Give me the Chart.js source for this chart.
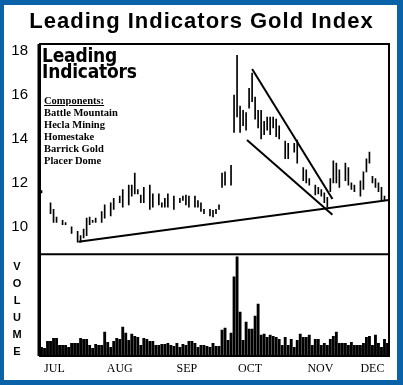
<!DOCTYPE html>
<html>
<head>
<meta charset="utf-8">
<script src="https://cdn.jsdelivr.net/npm/chart.js@4.4.0/dist/chart.umd.min.js"></script>
<style>
body { margin: 0; background: #fff; }
#wrap { position: relative; width: 403px; height: 385px; overflow: hidden; background: #fff; }
#frame { position: absolute; left: 0; top: 0; width: 403px; height: 385px; box-sizing: border-box;
  border: solid #0a62a9; border-width: 5px 6px 5px 4px; pointer-events: none; }
#title { position: absolute; left: 0; width: 403px; top: 8px; text-align: center; letter-spacing: 1px;
  font: bold 22px "Liberation Sans", Arial, sans-serif; color: #000; }
#big { position: absolute; left: 42px; top: 47px; font: bold 19px/16px "DejaVu Sans Condensed", "DejaVu Sans", sans-serif;
  color: #000; letter-spacing: -0.2px; }
#comp { position: absolute; left: 44px; top: 95px; font: bold 10.5px/12px "Liberation Serif", serif; color: #000; }
#comp u { text-underline-offset: 1px; }
#vol { position: absolute; left: 11px; top: 258px; width: 12px; text-align: center;
  font: bold 11px/17px "Liberation Sans", Arial, sans-serif; color: #000; }
</style>
</head>
<body>
<div id="wrap">
  <canvas id="chart" width="403" height="385"></canvas>
  <div id="title">Leading Indicators Gold Index</div>
  <div id="big">Leading<br>Indicators</div>
  <div id="comp"><u>Components:</u><br>Battle Mountain<br>Hecla Mining<br>Homestake<br>Barrick Gold<br>Placer Dome</div>
  <div id="vol">V<br>O<br>L<br>U<br>M<br>E</div>
  <div id="frame"></div>
</div>
<script>
// trading day index, high / low of the index
const priceDay  = [0, 3, 4, 5, 7, 8, 10, 12, 13, 14, 15, 16, 17, 18, 20, 21, 23, 24, 26, 27, 29, 30, 31, 32, 33, 34, 36, 37, 39, 40, 41, 42, 44, 46, 47, 48, 49, 51, 52, 53, 54, 56, 57, 58, 59, 60, 61, 63, 64, 65, 66, 67, 68, 69, 70, 71, 72, 73, 74, 75, 76, 77, 78, 79, 81, 82, 84, 85, 87, 88, 89, 91, 92, 93, 94, 95, 96, 97, 98, 99, 101, 102, 103, 104, 106, 107, 108, 109, 110, 111, 112, 113, 114];
const priceHigh = [11.65, 11.1, 10.8, 10.45, 10.3, 10.2, 10.0, 9.8, 9.6, 9.9, 10.4, 10.45, 10.3, 10.4, 10.7, 11.0, 11.1, 11.3, 11.4, 11.7, 11.9, 11.9, 12.45, 11.7, 11.45, 11.8, 11.9, 11.5, 11.5, 11.1, 11.3, 11.5, 11.4, 11.3, 11.4, 11.45, 11.4, 11.4, 11.2, 11.1, 10.8, 10.8, 10.75, 10.8, 11.0, 12.45, 12.5, 12.8, 16.0, 17.8, 15.5, 15.3, 15.2, 16.3, 17.0, 15.9, 15.3, 15.3, 14.8, 15.0, 15.0, 15.0, 14.9, 14.6, 13.9, 13.8, 13.8, 13.95, 12.7, 12.6, 12.2, 11.9, 11.8, 11.7, 11.55, 11.35, 12.2, 13.0, 12.9, 12.6, 12.9, 12.7, 12.0, 11.9, 12.1, 12.5, 13.1, 13.4, 12.3, 12.2, 12.0, 11.8, 11.4];
const priceLow  = [11.55, 10.6, 10.2, 10.2, 10.1, 10.1, 9.7, 9.3, 9.3, 9.5, 9.6, 10.1, 10.2, 10.2, 10.2, 10.4, 10.5, 10.8, 11.1, 10.9, 11.0, 11.4, 11.5, 11.5, 11.1, 11.1, 10.8, 10.9, 11.0, 10.9, 10.9, 10.9, 10.8, 11.1, 11.2, 11.0, 10.9, 10.9, 10.9, 10.7, 10.6, 10.5, 10.45, 10.6, 10.8, 11.8, 11.9, 11.9, 14.3, 15.0, 14.3, 14.6, 14.4, 15.4, 15.7, 14.9, 14.5, 14.0, 14.2, 14.4, 14.2, 14.5, 14.1, 14.0, 13.1, 13.1, 13.4, 12.9, 12.1, 12.0, 11.9, 11.45, 11.5, 11.4, 11.1, 10.9, 11.6, 12.0, 12.0, 11.8, 12.1, 11.9, 11.7, 11.6, 11.4, 11.7, 12.5, 12.9, 12.0, 11.8, 11.6, 11.2, 11.2];

// daily volume, one value per trading day (0..115)
const volume = [9, 8, 15, 15, 18, 18, 11, 11, 11, 9, 13, 13, 13, 18, 17, 17, 11, 8, 12, 11,
  11, 24, 14, 9, 15, 18, 17, 29, 23, 16, 22, 20, 19, 11, 18, 17, 15, 15, 11, 11,
  12, 12, 13, 11, 10, 13, 9, 12, 11, 15, 15, 13, 9, 11, 11, 10, 9, 13, 10, 10,
  26, 28, 16, 23, 79, 99, 44, 16, 34, 27, 27, 40, 52, 21, 22, 19, 21, 20, 19, 17,
  11, 19, 11, 17, 9, 16, 22, 19, 19, 21, 11, 17, 17, 11, 13, 11, 17, 20, 24, 13,
  13, 13, 11, 14, 11, 11, 11, 13, 19, 20, 11, 21, 13, 9, 17, 13];

// trend lines: [day, value] end points
const supportLine = [[12.3, 9.32], [115.5, 11.22]];
const wedgeTop    = [[70, 17.18], [96.7, 11.27]];
const wedgeBottom = [[68.3, 13.95], [96.7, 10.55]];

const monthPos   = [4.3, 26, 48.3, 69.3, 92.7, 110];
const monthNames = ['JUL', 'AUG', 'SEP', 'OCT', 'NOV', 'DEC'];
const priceTicks = [10, 12, 14, 16, 18];

function toXY(pts) {
    return pts.map(p => ({x: p[0], y: p[1]}));
}

function trend(pts) {
    return {
        type: 'line',
        data: toXY(pts),
        yAxisID: 'y',
        borderColor: '#000',
        borderWidth: 2,
        pointRadius: 0,
        fill: false
    };
}

// box around both panes plus the separator line
const framePlugin = {
    id: 'frame',
    afterDatasetsDraw(chart) {
        const c = chart.ctx, a = chart.chartArea;
        const sep = chart.scales.y.bottom;
        c.save();
        c.strokeStyle = '#000';
        c.lineWidth = 2;
        c.strokeRect(a.left, a.top, a.right - a.left, a.bottom - a.top);
        c.beginPath();
        c.moveTo(a.left, sep);
        c.lineTo(a.right, sep);
        c.stroke();
        c.lineWidth = 3;
        c.beginPath();
        c.moveTo(a.left - 1, a.top);
        c.lineTo(a.left - 1, a.bottom);
        c.stroke();
        c.restore();
    }
};

const priceBars = priceDay.map((d, i) => ({x: d, y: [priceLow[i], priceHigh[i]]}));
const volBars = volume.map((v, i) => ({x: i, y: v}));

new Chart(document.getElementById('chart').getContext('2d'), {
    type: 'bar',
    data: {
        datasets: [
            trend(supportLine),
            trend(wedgeTop),
            trend(wedgeBottom),
            {
                label: 'Index',
                data: priceBars,
                yAxisID: 'y',
                backgroundColor: '#000',
                barThickness: 1,
                grouped: false
            },
            {
                label: 'Volume',
                data: volBars,
                yAxisID: 'yVol',
                backgroundColor: '#000',
                barPercentage: 1,
                categoryPercentage: 0.95,
                grouped: false
            }
        ]
    },
    options: {
        responsive: false,
        animation: false,
        layout: { padding: { top: 44, right: 14, left: 0, bottom: 0 } },
        plugins: { legend: { display: false }, tooltip: { enabled: false } },
        scales: {
            x: {
                type: 'linear',
                min: -0.5,
                max: 115.5,
                offset: false,
                grid: { display: false, drawTicks: false },
                border: { display: false },
                afterBuildTicks: s => { s.ticks = monthPos.map(v => ({value: v})); },
                afterFit: s => { s.height = 29; },
                ticks: {
                    autoSkip: false,
                    maxRotation: 0,
                    padding: 6,
                    color: '#000',
                    font: { family: 'Liberation Serif', size: 12 },
                    callback: (v, i) => monthNames[i]
                }
            },
            // volume pane first so it ends up below the price pane
            yVol: {
                type: 'linear',
                position: 'left',
                stack: 'panes',
                stackWeight: 1,
                min: 0,
                max: 101,
                grid: { display: false, drawTicks: false },
                border: { display: false },
                afterFit: s => { s.width = 40; },
                ticks: { display: false }
            },
            y: {
                type: 'linear',
                position: 'left',
                stack: 'panes',
                stackWeight: 2.07,
                min: 8.75,
                max: 18.32,
                grid: { display: false, drawTicks: false },
                border: { display: false },
                afterBuildTicks: s => { s.ticks = priceTicks.map(v => ({value: v})); },
                afterFit: s => { s.width = 40; },
                ticks: {
                    padding: 12,
                    color: '#000',
                    font: { family: 'Liberation Sans', size: 15 }
                }
            }
        }
    },
    plugins: [framePlugin]
});
</script>
</body>
</html>
